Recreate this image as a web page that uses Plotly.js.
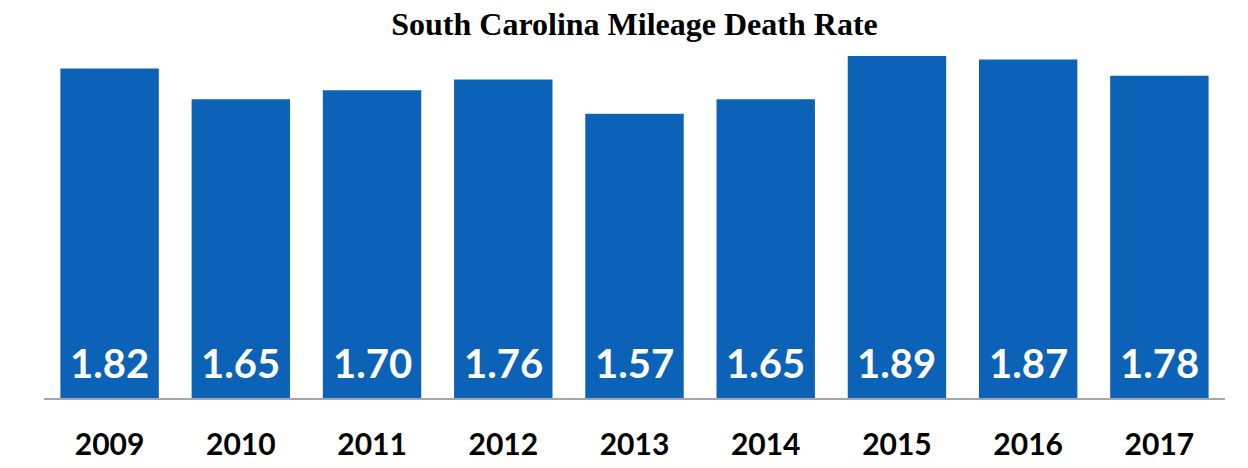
<!DOCTYPE html>
<html>
<head>
<meta charset="utf-8">
<script src="https://cdn.plot.ly/plotly-3.0.1.min.js"></script>
<style>html,body{margin:0;padding:0;background:#fff;}#chart{width:1248px;height:468px;}</style>
</head>
<body>
<div id="chart"></div>
<script>
const years = ["2009","2010","2011","2012","2013","2014","2015","2016","2017"];
const rates = [1.82, 1.65, 1.70, 1.76, 1.57, 1.65, 1.89, 1.87, 1.78];
const rateLabels = ["1.82","1.65","1.70","1.76","1.57","1.65","1.89","1.87","1.78"];
const chartTitle = "South Carolina Mileage Death Rate";

const trace = {
  type: "bar",
  x: years,
  y: rates,
  marker: {color: "#0b62b6", line: {width: 0}},
  hoverinfo: "x+y"
};

const annotations = years.map((yr, i) => ({
  x: i, y: 0, xref: "x", yref: "y",
  text: rateLabels[i],
  showarrow: false,
  yanchor: "bottom",
  yshift: 9,
  font: {family: "Lato, 'Open Sans', sans-serif", size: 40, color: "#ffffff", weight: 700}
}));

const layout = {
  width: 1248, height: 468,
  margin: {l: 44, r: 23, t: 36, b: 70},
  paper_bgcolor: "#ffffff",
  plot_bgcolor: "#ffffff",
  bargap: 0.25,
  showlegend: false,
  title: {
    text: "<b>" + chartTitle + "</b>",
    font: {family: "'Liberation Serif', 'Times New Roman', serif", size: 32, color: "#000000"},
    x: 0.5, xref: "paper", xanchor: "center",
    y: 0.974, yref: "container", yanchor: "top"
  },
  xaxis: {
    type: "category",
    range: [-0.5, 8.5], autorange: false,
    showline: true, linecolor: "#a6a6a6", linewidth: 2,
    showgrid: false, zeroline: false, ticks: "",
    tickfont: {family: "Lato, 'Open Sans', sans-serif", size: 30, color: "#000000", weight: 700},
    ticklabelstandoff: 19
  },
  yaxis: {
    range: [0, 2], autorange: false, visible: false, showgrid: false, zeroline: false, fixedrange: true
  },
  annotations: annotations
};

Plotly.newPlot("chart", [trace], layout, {displayModeBar: false, staticPlot: true});
</script>
</body>
</html>
